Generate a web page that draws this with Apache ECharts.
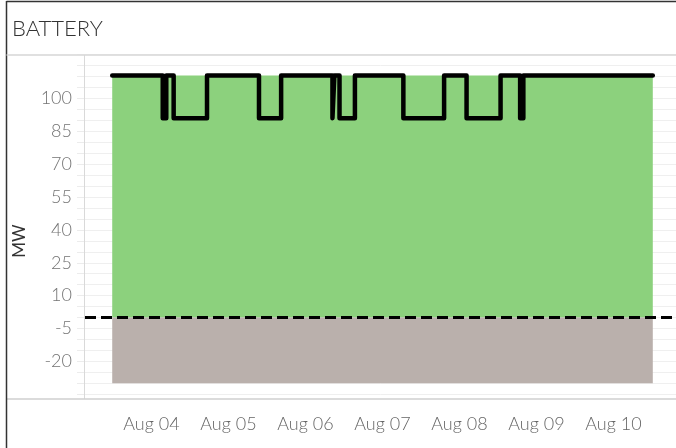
<!DOCTYPE html>
<html>
<head>
<meta charset="utf-8">
<title>BATTERY</title>
<script src="https://cdn.jsdelivr.net/npm/echarts@6/dist/echarts.min.js"></script>
<style>
  html, body { margin: 0; padding: 0; background: #fff; }
  #battery { width: 676px; height: 448px; }
</style>
</head>
<body>
<div id="battery"></div>
<script>
// battery dispatch, MW
const stepTimes = [
  '2023-08-03 11:45', '2023-08-04 03:30', '2023-08-04 04:36', '2023-08-04 06:54',
  '2023-08-04 17:18', '2023-08-05 09:30', '2023-08-05 16:24', '2023-08-06 08:24',
  '2023-08-06 09:00', '2023-08-06 10:36', '2023-08-06 15:24', '2023-08-07 06:30',
  '2023-08-07 19:12', '2023-08-08 02:12', '2023-08-08 12:48', '2023-08-08 18:54',
  '2023-08-08 19:54', '2023-08-10 12:15'
];
const stepValues = [110.5, 91, 110.5, 91, 110.5, 91, 110.5, 91, 110.5, 91, 110.5, 91, 110.5, 91, 110.5, 91, 110.5, 110.5];

const rangeTimes = ['2023-08-03 11:45', '2023-08-10 12:15'];
const chargeLimit = [110.5, 110.5];
const dischargeLimit = [-30, -30];

const yTickLabels = [-20, -5, 10, 25, 40, 55, 70, 85, 100];
const xTickDays = ['2023-08-04', '2023-08-05', '2023-08-06', '2023-08-07', '2023-08-08', '2023-08-09', '2023-08-10'];
const xTickLabels = ['Aug 04', 'Aug 05', 'Aug 06', 'Aug 07', 'Aug 08', 'Aug 09', 'Aug 10'];

const xMin = '2023-08-03 03:16';
const xMax = '2023-08-10 19:29';

// local-time timestamps
const toTs = (s) => {
  const iso = s.length === 10 ? s + 'T00:00' : s.replace(' ', 'T');
  return new Date(iso).getTime();
};
const dayTs = xTickDays.map(toTs);

const zip = (a, b) => a.map((t, i) => [toTs(t), b[i]]);

const FONT = 'Lato, "Open Sans", sans-serif';

const myChart = echarts.init(document.getElementById('battery'));

const option = {
  animation: false,
  textStyle: { fontFamily: FONT },
  grid: {
    left: 85,
    right: 0,
    top: 54.7,
    bottom: 53.8
  },
  xAxis: {
    type: 'value',
    min: toTs(xMin),
    max: toTs(xMax),
    offset: 5,
    axisLine: { show: false },
    axisTick: {
      show: true,
      customValues: dayTs,
      length: 9,
      lineStyle: { color: '#e2e2e2' }
    },
    axisLabel: {
      customValues: dayTs,
      margin: 16,
      fontSize: 18,
      fontWeight: 300,
      color: '#666',
      formatter: (v) => {
        const i = dayTs.indexOf(v);
        return i >= 0 ? xTickLabels[i] : '';
      }
    },
    splitLine: { show: false }
  },
  yAxis: {
    type: 'value',
    min: -35,
    max: 120,
    interval: 5,
    axisLine: { show: false },
    axisTick: {
      show: true,
      length: 8,
      lineStyle: { color: '#ececec' }
    },
    axisLabel: {
      margin: 13,
      fontSize: 18,
      fontWeight: 300,
      color: '#737373',
      formatter: (v) => yTickLabels.indexOf(v) >= 0 ? String(v) : ''
    },
    splitLine: {
      show: true,
      lineStyle: { color: '#efefef', width: 1 }
    }
  },
  series: [
    {
      name: 'charge',
      type: 'line',
      data: zip(rangeTimes, chargeLimit),
      showSymbol: false,
      lineStyle: { width: 0 },
      areaStyle: { color: '#8cd17d', opacity: 1 },
      z: 1
    },
    {
      name: 'discharge',
      type: 'line',
      data: zip(rangeTimes, dischargeLimit),
      showSymbol: false,
      lineStyle: { width: 0 },
      areaStyle: { color: '#bab0ac', opacity: 1 },
      z: 1,
      markLine: {
        silent: true,
        symbol: 'none',
        label: { show: false },
        lineStyle: { color: '#000', width: 3, type: [11, 5] },
        data: [{ yAxis: 0 }]
      }
    },
    {
      name: 'dispatch',
      type: 'line',
      step: 'end',
      data: zip(stepTimes, stepValues),
      showSymbol: false,
      lineStyle: { color: '#000', width: 4.5, cap: 'round', join: 'round' },
      z: 3
    }
  ],
  graphic: [
    // header panel
    { type: 'rect', shape: { x: 0, y: 0, width: 676, height: 54.5 }, style: { fill: '#fff' }, z: 100 },
    { type: 'line', shape: { x1: 6.5, y1: 1.5, x2: 676, y2: 1.5 }, style: { stroke: '#333', lineWidth: 1.5 }, z: 101 },
    { type: 'line', shape: { x1: 6.5, y1: 1, x2: 6.5, y2: 448 }, style: { stroke: '#333', lineWidth: 1.5 }, z: 101 },
    { type: 'line', shape: { x1: 6.5, y1: 55, x2: 676, y2: 55 }, style: { stroke: '#d6d6d6', lineWidth: 1.5 }, z: 101 },
    { type: 'text', x: 12, y: 29, style: { text: 'BATTERY', fontSize: 22, fontWeight: 300, fill: '#333', fontFamily: FONT, verticalAlign: 'middle' }, z: 101 },
    // axis rules
    { type: 'line', shape: { x1: 84.5, y1: 55, x2: 84.5, y2: 399 }, style: { stroke: '#d9d9d9', lineWidth: 1 }, z: 50 },
    { type: 'line', shape: { x1: 6.5, y1: 399, x2: 676, y2: 399 }, style: { stroke: '#cfcfcf', lineWidth: 1.5 }, z: 50 },
    // y title
    { type: 'text', x: 20, y: 241, rotation: Math.PI / 2, style: { text: 'MW', fontSize: 17, fill: '#333', fontFamily: FONT, align: 'center', verticalAlign: 'middle' }, z: 101 }
  ]
};

myChart.setOption(option, true);
</script>
</body>
</html>
